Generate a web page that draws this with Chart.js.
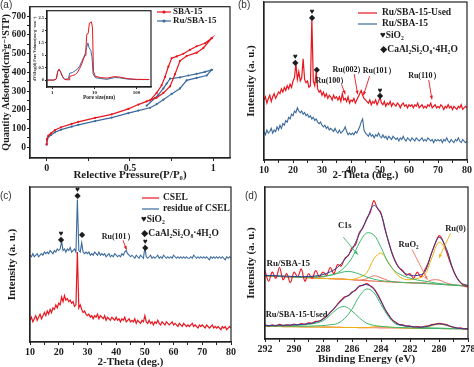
<!DOCTYPE html>
<html>
<head>
<meta charset="utf-8">
<script src="https://cdn.jsdelivr.net/npm/chart.js@4.4.0/dist/chart.umd.min.js"></script>
<style>
body { margin: 0; background: #fff; }
#wrap { position: relative; width: 474px; height: 367px; overflow: hidden; background: #fff; }
canvas { position: absolute; }
</style>
</head>
<body>
<div id="wrap">
  <canvas id="chartA" width="237" height="183" style="left:0px;top:0px"></canvas>
  <canvas id="chartInset" width="122" height="94" style="left:33px;top:7px"></canvas>
  <canvas id="chartB" width="237" height="183" style="left:237px;top:0px"></canvas>
  <canvas id="chartC" width="237" height="184" style="left:0px;top:183px"></canvas>
  <canvas id="chartD" width="237" height="184" style="left:237px;top:183px"></canvas>
</div>
<script>
// ---- (a) N2 isotherms: P/P0 vs quantity adsorbed ----
const sbaAdsP = [0, 0.003, 0.01, 0.026, 0.05, 0.086, 0.15, 0.19, 0.29, 0.39, 0.49, 0.55, 0.6, 0.66, 0.7, 0.74, 0.77, 0.8, 0.84, 0.9, 0.94, 0.99];
const sbaAdsV = [17, 45, 62, 75, 92, 107, 125, 136, 157, 176, 205, 228, 245, 265, 290, 325, 390, 461, 487, 505, 530, 582];
const sbaDesP = [0.99, 0.95, 0.9, 0.86, 0.82, 0.78, 0.75, 0.73, 0.71, 0.69, 0.66, 0.62];
const sbaDesV = [582, 555, 539, 520, 499, 485, 475, 430, 375, 331, 290, 250];
const ruAdsP = [0, 0.003, 0.01, 0.026, 0.05, 0.086, 0.15, 0.19, 0.29, 0.39, 0.49, 0.55, 0.62, 0.66, 0.7, 0.75, 0.8, 0.84, 0.9, 0.96, 0.99];
const ruAdsV = [14, 40, 55, 66, 80, 94, 110, 120, 140, 158, 182, 196, 211, 230, 254, 285, 314, 357, 370, 383, 413];
const ruDesP = [0.99, 0.95, 0.9, 0.85, 0.8, 0.74, 0.72, 0.7, 0.67, 0.65, 0.6];
const ruDesV = [413, 402, 392, 383, 373, 366, 340, 314, 280, 263, 222];

// inset: pore size distribution
const poreSizeSBA = [0.75, 1.1, 1.25, 1.35, 1.45, 1.6, 1.8, 2.0, 2.5, 2.6, 3.0, 3.5, 4.0, 4.5, 5.0, 5.5, 6.0, 6.3, 6.6, 7.1, 7.6, 8.5, 9.0, 9.5, 10.5, 14, 20, 30, 40, 60, 100, 200];
const poreVolSBA = [0, 0, 0.05, 0.35, 0.44, 0.3, 0.1, 0.02, 0.01, 0.15, 0.18, 0.22, 0.32, 0.48, 0.65, 0.85, 1.0, 1.3, 1.85, 1.88, 2.3, 2.35, 2.1, 0.35, 0.15, 0.1, 0.08, 0.14, 0.12, 0.06, 0.03, 0.02];
const poreSizeRu = [0.75, 1.1, 1.25, 1.35, 1.45, 1.6, 1.8, 2.0, 2.4, 2.6, 3.0, 3.5, 4.0, 4.5, 5.0, 5.5, 6.0, 6.5, 7.0, 7.5, 8.2, 8.8, 9.3, 10.5, 14, 20, 30, 40, 60, 100, 200];
const poreVolRu = [0, 0, 0.05, 0.35, 0.44, 0.3, 0.1, 0.03, 0.05, 0.28, 0.3, 0.38, 0.45, 0.58, 0.75, 0.9, 1.05, 1.3, 1.5, 1.3, 1.2, 0.9, 0.25, 0.1, 0.06, 0.03, 0.1, 0.09, 0.04, 0.02, 0.02];

// ---- XRD, 2-theta sampled every 0.5 deg from 10 to 80 ----
const twoTheta = [];
for (let i = 0; i <= 140; i++) twoTheta.push(10 + i * 0.5);

const xrdUsed = [38,40,36,39,41,37,40,42,39,41,43,
  42,45,43,46,44,47,45,48,46,50,
  52,61,51,56,50,52,64,51,49,50,46,47,89,50,47,56,45,43,44,41,
  43,40,42,39,41,40,38,41,39,40,
  38,40,37,42,38,39,37,40,36,38,
  37,39,36,38,40,42,44,41,39,38,
  37,36,38,35,37,36,38,35,37,40,
  36,35,37,34,36,35,37,34,36,35,
  34,36,35,33,35,36,34,35,33,35,
  34,35,33,35,34,36,33,34,35,33,
  34,33,35,34,36,33,34,35,33,34,
  33,35,34,32,34,33,35,33,34,32,
  34,33,32,34,33,35,32,33,34,33];
const xrdFresh = [18,16,19,17,18,20,17,19,18,21,19,
  22,20,23,22,25,24,27,26,29,28,
  31,30,33,31,30,31,29,30,28,29,27,28,26,27,25,26,24,23,24,22,
  21,22,20,21,19,20,19,18,20,18,
  17,19,17,18,19,21,18,16,17,16,
  17,16,18,17,19,21,24,26,19,17,
  16,15,17,15,16,14,16,15,17,15,
  14,16,14,15,13,15,14,13,15,14,
  13,14,12,14,13,15,13,12,14,13,
  12,14,13,12,14,13,12,13,14,12,
  13,12,14,13,12,13,11,13,12,13,
  12,13,11,13,12,14,12,11,13,12,
  11,13,12,14,12,11,13,12,11,12];
const xrdResidue = [56,55,57,55,56,57,55,56,57,56,58,
  57,58,57,59,58,57,59,58,60,59,
  60,65,59,60,58,60,59,61,58,59,60,58,92,59,58,64,58,57,58,57,
  58,56,57,56,58,57,56,58,56,57,
  56,57,55,56,57,55,56,55,57,56,
  55,56,55,57,56,58,59,57,56,55,
  56,55,54,56,55,54,56,55,54,61,
  55,54,55,56,54,55,54,55,56,54,
  55,54,56,55,54,55,54,55,54,56,
  55,54,55,54,55,54,55,54,55,54,
  54,55,54,56,55,54,55,54,55,54,
  55,54,55,54,53,55,54,55,54,55,
  54,55,54,55,54,53,55,54,55,54];
const xrdCsel = [14,16,13,15,17,14,16,18,15,17,19,
  17,20,18,21,19,22,21,24,22,25,
  24,29,26,30,27,28,26,27,25,26,23,24,58,22,24,21,19,20,18,17,
  18,16,17,15,17,16,18,15,17,16,
  15,17,14,16,15,14,16,15,14,16,
  14,15,13,15,14,16,13,14,15,13,
  14,13,15,12,14,13,12,14,13,17,
  13,12,14,12,13,11,13,12,14,12,
  11,13,12,11,13,12,11,12,13,11,
  12,11,10,12,11,10,12,11,10,11,
  10,11,12,10,11,10,9,11,10,11,
  10,9,11,10,9,10,11,9,10,9,
  10,9,8,10,9,10,8,9,10,9];

// ---- XPS C1s / Ru3d, binding energy 292 -> 278 eV ----
const beFine = [];
for (let i = 0; i <= 56; i++) beFine.push(292 - i * 0.25);
const beFit = [];
for (let i = 0; i <= 28; i++) beFit.push(292 - i * 0.5);

const xpsRawFresh = [45,38,44,40,47,39,43,37,44,41,46,38,43,40,45,41,44,42,47,43,49,
  48,53,55,60,62,70,73,79,83,91,86,83,73,65,57,51,47,45,42,43,
  40,44,41,45,50,57,63,68,65,58,51,45,40,37,35,34];
const xpsEnvFresh = [41.9,41.7,41.5,41.3,41.1,41.0,41.1,41.5,42.4,44.2,47.1,52.3,58.7,68.9,78.3,87.8,82.1,64.2,50.5,44.2,42.0,41.8,43.8,56.8,66.9,59.6,45.0,37.0,35.2];
const xpsC1sFresh = [41.8,41.6,41.4,41.2,41.0,40.9,40.8,40.9,41.2,41.9,43.5,47.3,53.4,63.1,69.7,68.5,60.3,50.1,44.4,41.7,40.0,38.8,38.1,37.3,36.5,36.0,35.6,35.2,34.9];
const xpsCOFresh = [41.6,41.4,41.2,41.0,40.8,40.6,40.6,40.7,41.1,42.0,43.1,44.3,44.2,42.7,40.9,39.4,38.4,37.9,37.5,37.2,37.0,36.8,36.6,36.3,36.0,35.7,35.4,35.1,34.8];
const xpsRu0Fresh = [41.5,41.3,41.1,40.9,40.7,40.5,40.3,40.1,39.9,39.7,39.5,39.3,39.1,40.5,43.3,52.6,56.5,50.6,43.4,39.7,39.0,39.8,41.8,53.3,63.6,58.1,44.5,36.9,35.1];
const xpsRuO2Fresh = [41.5,41.3,41.1,40.9,40.7,40.5,40.3,40.1,39.9,39.7,39.5,39.3,39.0,38.7,39.6,41.6,40.3,38.4,37.4,37.2,37.0,36.8,37.1,38.8,38.8,36.9,35.7,35.1,34.8];
const xpsBgFresh = [41.5,41.3,41.1,40.9,40.7,40.5,40.3,40.1,39.9,39.7,39.5,39.3,39.0,38.7,38.4,38.1,37.8,37.6,37.4,37.2,37.0,36.8,36.6,36.3,36.0,35.7,35.4,35.1,34.8];

const xpsRawUsed = [9.5,8.4,9.3,8.6,9.6,8.7,9.4,9.0,9.8,9.2,10.1,9.6,10.6,10.4,11.6,11.8,13.4,14.9,17.6,19.8,22.9,
  25.6,27.8,28.4,30.9,32.1,34.9,35.2,36.4,35.1,33.3,29.8,25.2,20.1,16.4,12.9,11.1,9.6,9.4,8.5,8.6,
  7.9,8.2,7.8,8.4,8.6,9.5,9.8,10.4,9.9,9.6,8.4,7.9,7.2,7.3,6.6,7.0];
const xpsEnvUsed = [8.9,8.9,9.1,9.1,9.3,9.6,10.1,11.1,13.0,17.3,22.5,27.2,30.4,34.5,35.8,32.8,24.7,16.0,10.6,9.0,8.3,7.8,8.0,9.1,10.0,9.2,7.7,6.9,6.7];
const xpsC1sUsed = [8.5,8.4,8.5,8.4,8.4,8.4,8.4,8.6,8.8,9.4,10.2,13.5,19.6,28.0,32.9,30.6,22.7,14.9,10.0,8.7,8.1,7.7,7.5,7.3,7.2,7.0,6.9,6.8,6.7];
const xpsCOUsed = [8.7,8.7,8.8,8.8,9.0,9.2,9.6,10.4,12.0,15.7,20.0,21.3,18.4,14.0,10.4,9.0,8.3,7.9,7.6,7.5,7.3,7.1,7.0,6.9,6.9,6.8,6.7,6.7,6.6];
const xpsRuUsed = [8.3,8.2,8.2,8.1,8.1,8.0,7.9,7.9,7.8,7.8,7.7,7.6,7.6,7.5,7.5,8.0,8.3,7.8,7.4,7.2,7.1,7.0,7.5,8.7,9.7,9.0,7.5,6.8,6.6];
const xpsBgUsed = [8.3,8.2,8.2,8.1,8.1,8.0,7.9,7.9,7.8,7.8,7.7,7.6,7.6,7.5,7.5,7.4,7.3,7.3,7.2,7.2,7.1,7.0,7.0,6.9,6.9,6.8,6.7,6.7,6.6];

// ---- styles ----
const SERIF = "'Liberation Serif', 'DejaVu Serif', serif";
const RED = '#e8161e';
const BLUE = '#3b6a9e';
const GREEN = '#3cb86a';
const YELLOW = '#f2b20c';
const SALMON = '#f27461';
const NAVY = '#2d3f97';
Chart.defaults.font.family = SERIF;
Chart.defaults.font.weight = 'bold';
Chart.defaults.font.size = 10;
Chart.defaults.color = '#1c1c1c';

function pts(xs, ys) {
  return xs.map((x, i) => ({ x: x, y: ys[i] }));
}

function series(label, data, color, width, radius) {
  return {
    label: label, data: data, showLine: true,
    borderColor: color, backgroundColor: color,
    borderWidth: width || 1, pointRadius: radius || 0, pointHoverRadius: 0,
    pointBorderWidth: 0, tension: 0
  };
}

// one axis, with fixed box size so the plot frames line up with the picture
function axis(o) {
  return {
    type: o.type || 'linear', min: o.min, max: o.max, reverse: !!o.reverse,
    afterFit: s => { if (s.isHorizontal()) s.height = o.size; else s.width = o.size; },
    afterBuildTicks: s => { s.ticks = (o.ticks || []).map(v => ({ value: v })); },
    grid: { display: !!o.ticks, drawOnChartArea: false, tickLength: o.tickLen || 3, color: '#222', lineWidth: 1 },
    border: { display: true, color: '#222', width: 1.2 },
    ticks: {
      display: !!o.ticks, autoSkip: false, maxRotation: 0, padding: o.tickPad || 1,
      font: { size: o.font || 10 },
      callback: o.label || (v => String(v))
    },
    title: { display: true, text: o.title, font: { size: o.titleSize || 11 }, padding: o.titlePad || 0 }
  };
}

function range(a, b, step) {
  const out = [];
  for (let v = a; v <= b + 1e-9; v += step) out.push(Math.round(v * 100) / 100);
  return out;
}

// frame, panel tag, hand placed legend, peak markers and arrows
function decor(spec) {
  return {
    id: 'decor',
    afterDraw(chart) {
      const ctx = chart.ctx, a = chart.chartArea;
      const sx = chart.scales.x, sy = chart.scales.y;
      ctx.save();
      ctx.strokeStyle = '#222';
      ctx.lineWidth = 1.2;
      ctx.strokeRect(a.left, a.top, a.right - a.left, a.bottom - a.top);
      ctx.textBaseline = 'middle';
      if (spec.tag) {
        ctx.font = "10px 'Liberation Sans', Arial, sans-serif";
        ctx.fillStyle = '#333';
        ctx.textAlign = 'left';
        ctx.fillText(spec.tag[0], spec.tag[1], spec.tag[2]);
      }
      (spec.legend || []).forEach(it => {
        if (it.color) {
          ctx.strokeStyle = it.color;
          ctx.lineWidth = 1.2;
          ctx.beginPath();
          ctx.moveTo(it.x, it.y);
          ctx.lineTo(it.x + it.len, it.y);
          ctx.stroke();
          if (it.mark) {
            ctx.fillStyle = it.color;
            ctx.beginPath();
            ctx.arc(it.x + it.len / 2, it.y, 1.6, 0, Math.PI * 2);
            ctx.fill();
          }
        }
        ctx.font = 'bold ' + (it.size || 9.5) + 'px ' + SERIF;
        ctx.fillStyle = '#1c1c1c';
        ctx.textAlign = 'left';
        ctx.fillText(it.text, it.tx, it.y);
      });
      (spec.arrows || []).forEach(ar => {
        const x1 = sx.getPixelForValue(ar.from[0]), y1 = sy.getPixelForValue(ar.from[1]);
        const x2 = sx.getPixelForValue(ar.to[0]), y2 = sy.getPixelForValue(ar.to[1]);
        const ang = Math.atan2(y2 - y1, x2 - x1);
        ctx.strokeStyle = ar.color;
        ctx.fillStyle = ar.color;
        ctx.lineWidth = 0.9;
        ctx.beginPath();
        ctx.moveTo(x1, y1);
        ctx.lineTo(x2, y2);
        ctx.stroke();
        ctx.beginPath();
        ctx.moveTo(x2, y2);
        ctx.lineTo(x2 - 4 * Math.cos(ang - 0.4), y2 - 4 * Math.sin(ang - 0.4));
        ctx.lineTo(x2 - 4 * Math.cos(ang + 0.4), y2 - 4 * Math.sin(ang + 0.4));
        ctx.closePath();
        ctx.fill();
      });
      (spec.notes || []).forEach(n => {
        ctx.font = 'bold ' + (n.size || 8) + 'px ' + SERIF;
        ctx.fillStyle = n.color || '#1c1c1c';
        ctx.textAlign = n.align || 'center';
        ctx.fillText(n.text, sx.getPixelForValue(n.at[0]), sy.getPixelForValue(n.at[1]));
      });
      ctx.restore();
    }
  };
}

function makeChart(id, datasets, scales, pad, spec) {
  return new Chart(document.getElementById(id), {
    type: 'scatter',
    data: { datasets: datasets },
    options: {
      responsive: false, devicePixelRatio: 1, animation: false,
      layout: { padding: pad },
      plugins: { legend: { display: false }, tooltip: { enabled: false } },
      scales: scales
    },
    plugins: [decor(spec)]
  });
}

// ---------------- (a) ----------------
makeChart('chartA', [
  series('SBA-15', pts(sbaAdsP.concat(sbaDesP), sbaAdsV.concat(sbaDesV)), RED, 1.2, 1.1),
  series('Ru/SBA-15', pts(ruAdsP.concat(ruDesP), ruAdsV.concat(ruDesV)), BLUE, 1.2, 1.1)
], {
  x: axis({ min: -0.1, max: 1.1, size: 25, ticks: range(0, 1, 0.25), font: 10,
    label: v => (Math.abs(v * 2 - Math.round(v * 2)) < 1e-6 ? String(v) : ''),
    title: 'Relective Pressure(P/P\u2080)', titlePad: { bottom: 1 } }),
  y: axis({ min: -57, max: 750, size: 30, ticks: range(0, 700, 50), font: 9.5,
    label: v => (v % 100 === 0 ? String(v) : ''),
    title: 'Quantity Adsorbed(cm\u00b3g\u207b\u00b9STP)', titleSize: 10, titlePad: { top: 0 } })
}, { left: 0, right: 7, top: 4, bottom: 0 }, {
  tag: ['(a)', 0, 5],
  legend: [
    { text: 'SBA-15', color: RED, mark: true, x: 157, len: 14, tx: 173, y: 12, size: 9 },
    { text: 'Ru/SBA-15', color: BLUE, mark: true, x: 157, len: 14, tx: 173, y: 21, size: 9 }
  ]
});

// inset of (a)
makeChart('chartInset', [
  series('SBA-15', pts(poreSizeSBA, poreVolSBA), RED, 1),
  series('Ru/SBA-15', pts(poreSizeRu, poreVolRu), BLUE, 1)
], {
  x: axis({ type: 'logarithmic', min: 0.75, max: 220, size: 14, ticks: [1, 10, 100], font: 5, tickLen: 2,
    title: 'Pore size(nm)', titleSize: 5.5, titlePad: { bottom: 0 } }),
  y: axis({ min: -0.28, max: 2.8, size: 14, ticks: [0, 0.5, 1, 1.5, 2, 2.5], font: 4.5, tickLen: 2,
    title: 'dV/dlog(d) Pore Volume(cm\u00b3g\u207b\u00b9nm\u207b\u00b9)', titleSize: 4, titlePad: { top: 0 } })
}, { left: 0, right: 4, top: 2, bottom: 0 }, {});

// ---------------- (b) ----------------
makeChart('chartB', [
  series('Ru/SBA-15-Used', pts(twoTheta, xrdUsed), RED, 1.2),
  series('Ru/SBA-15', pts(twoTheta, xrdFresh), BLUE, 1.1)
], {
  x: axis({ min: 10, max: 80, size: 23, ticks: range(10, 80, 5),
    label: v => (v % 10 === 0 ? String(v) : ''),
    title: '2-Theta (deg.)', titlePad: { bottom: 1 } }),
  y: axis({ min: 0, max: 100, size: 27, title: 'Intensity (a. u.)', titlePad: { top: 8 } })
}, { left: 0, right: 7, top: 2, bottom: 0 }, {
  tag: ['(b)', 1, 5],
  legend: [
    { text: 'Ru/SBA-15-Used', color: RED, x: 121, len: 19, tx: 145, y: 13 },
    { text: 'Ru/SBA-15', color: BLUE, x: 121, len: 19, tx: 145, y: 24 },
    { text: '\u2665SiO\u2082', tx: 143, y: 36 },
    { text: '\u25c6CaAl\u2082Si\u2082O\u2088\u00b74H\u2082O', tx: 143, y: 50 }
  ],
  notes: [
    { text: '\u2665', at: [26.6, 94] }, { text: '\u25c6', at: [26.6, 90] },
    { text: '\u2665', at: [20.8, 65] }, { text: '\u25c6', at: [20.8, 61.5] },
    { text: '\u25c6', at: [28.2, 57] },
    { text: '\u2665', at: [50, 44] }, { text: '\u25c6', at: [50, 40.5] },
    { text: 'Ru(100\uff09', at: [33.4, 50] },
    { text: 'Ru(002\uff09', at: [39.3, 57] },
    { text: 'Ru(101\uff09', at: [49.7, 56.3] },
    { text: 'Ru(110\uff09', at: [65.3, 53] }
  ],
  arrows: [
    { from: [36.8, 47.5], to: [38.0, 41.6], color: RED },
    { from: [41.1, 54.4], to: [42.3, 41.6], color: RED },
    { from: [46.4, 53], to: [44.3, 41], color: RED },
    { from: [66.8, 50.6], to: [67.9, 38.4], color: RED }
  ]
});

// ---------------- (c) ----------------
makeChart('chartC', [
  series('CSEL', pts(twoTheta, xrdCsel), RED, 1.2),
  series('residue of CSEL', pts(twoTheta, xrdResidue), BLUE, 1.1)
], {
  x: axis({ min: 10, max: 80, size: 25, ticks: range(10, 80, 5),
    label: v => (v % 10 === 0 ? String(v) : ''),
    title: '2-Theta (deg.)', titlePad: { bottom: -2 } }),
  y: axis({ min: 0, max: 100, size: 30, title: 'Intensity (a. u.)', titlePad: { top: 6 } })
}, { left: 0, right: 5, top: 4, bottom: 0 }, {
  tag: ['(c)', 0, 13],
  legend: [
    { text: 'CSEL', color: RED, x: 142, len: 17, tx: 163, y: 15 },
    { text: 'residue of CSEL', color: BLUE, x: 142, len: 17, tx: 163, y: 26 },
    { text: '\u2665SiO\u2082', tx: 141, y: 37 },
    { text: '\u25c6CaAl\u2082Si\u2082O\u2088\u00b74H\u2082O', tx: 141, y: 50.5 }
  ],
  notes: [
    { text: '\u2665', at: [26.6, 98] }, { text: '\u25c6', at: [26.6, 94.5] },
    { text: '\u2665', at: [20.8, 69.5] }, { text: '\u25c6', at: [20.8, 66] },
    { text: '\u25c6', at: [28.1, 69] },
    { text: '\u2665', at: [50.2, 64.5] }, { text: '\u25c6', at: [50.2, 61] },
    { text: 'Ru(101\uff09', at: [40.7, 67.7] }
  ],
  arrows: [{ from: [42.4, 65.6], to: [43.6, 59.5], color: RED }]
});

// ---------------- (d) ----------------
makeChart('chartD', [
  series('fit', pts(beFit, xpsEnvFresh), NAVY, 1),
  series('Ru/SBA-15', pts(beFine, xpsRawFresh), RED, 1.1),
  series('C1s', pts(beFit, xpsC1sFresh), GREEN, 1),
  series('C-O', pts(beFit, xpsCOFresh), GREEN, 1),
  series('Ru(0)', pts(beFit, xpsRu0Fresh), YELLOW, 1),
  series('RuO2', pts(beFit, xpsRuO2Fresh), SALMON, 1),
  series('bg', pts(beFit, xpsBgFresh), SALMON, 1.1),
  series('fit used', pts(beFit, xpsEnvUsed), NAVY, 1),
  series('Ru/SBA-15-Used', pts(beFine, xpsRawUsed), RED, 1.1),
  series('C1s used', pts(beFit, xpsC1sUsed), GREEN, 1),
  series('C-O used', pts(beFit, xpsCOUsed), GREEN, 1),
  series('Ru used', pts(beFit, xpsRuUsed), YELLOW, 1),
  series('bg used', pts(beFit, xpsBgUsed), SALMON, 1.1)
].map(d => Object.assign(d, { tension: 0.35 })), {
  x: axis({ min: 278, max: 292, reverse: true, size: 28, ticks: range(278, 292, 1),
    label: v => (v % 2 === 0 ? String(v) : ''),
    title: 'Binding Energy (eV)', titlePad: { bottom: 1 } }),
  y: axis({ min: 0, max: 100, size: 28, title: 'Intensity (a. u.)', titlePad: { top: 8 } })
}, { left: 0, right: 6, top: 4, bottom: 0 }, {
  tag: ['(d)', 8, 13],
  notes: [
    { text: 'C1s', at: [286.5, 74.5], size: 8.5 },
    { text: 'RuO\u2082', at: [282.1, 61.8], size: 8.5 },
    { text: 'Ru(0)', at: [278.86, 72.6], size: 8.5 },
    { text: 'Ru/SBA-15', at: [291.9, 49.3], size: 9, align: 'left' },
    { text: 'Ru/SBA-15-Used', at: [291.95, 16], size: 8.5, align: 'left' }
  ],
  arrows: [
    { from: [286.6, 67], to: [285.6, 55.5], color: GREEN },
    { from: [281.85, 58.8], to: [280.8, 39], color: SALMON },
    { from: [279.2, 69.7], to: [280.0, 53.3], color: YELLOW }
  ]
});
</script>
</body>
</html>
